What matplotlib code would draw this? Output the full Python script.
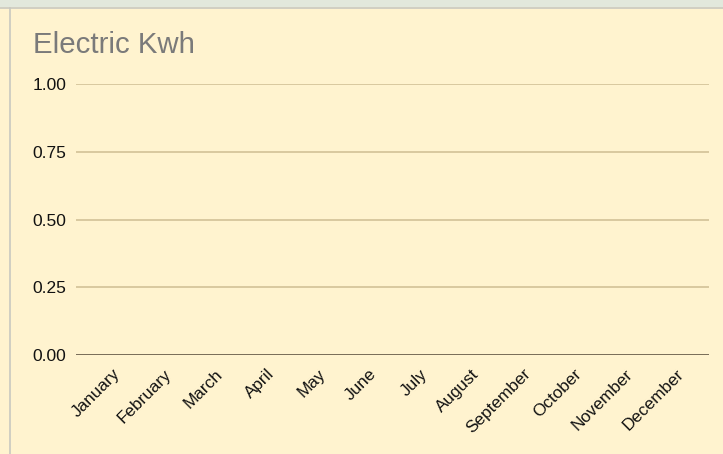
import matplotlib.pyplot as plt
from matplotlib.patches import Rectangle

# Chart data (no readings yet, so the chart is empty)
months = ['January', 'February', 'March', 'April', 'May', 'June', 'July',
          'August', 'September', 'October', 'November', 'December']
kwh = []
yticks = [0.0, 0.25, 0.5, 0.75, 1.0]

W, H = 723, 454
fig = plt.figure(figsize=(W / 100, H / 100), dpi=100)
fig.patch.set_facecolor('#fff3cf')

# page strip at top and card border
fig.patches.append(Rectangle((0, 1 - 7 / H), 1, 7 / H, transform=fig.transFigure,
                             facecolor='#e2e8dc', edgecolor='none', zorder=0))
fig.add_artist(plt.Line2D([0, 1], [1 - 7.5 / H] * 2, color='#c8c8c0', lw=1.2))
fig.add_artist(plt.Line2D([9.5 / W] * 2, [0, 1 - 7.5 / H], color='#c8c8c0', lw=1.2))

left, right = 76 / W, 709 / W
bottom, top = 1 - 355 / H, 1 - 84 / H
ax = fig.add_axes([left, bottom, right - left, top - bottom])
ax.set_facecolor('none')

x = list(range(len(months)))
ax.plot(x[:len(kwh)], kwh, color='#4e79a7')

ax.set_ylim(0, 1)
ax.set_xlim(-0.82, 11.53)
ax.set_yticks(yticks)
ax.set_yticklabels(['%.2f' % v for v in yticks], fontsize=12.5,
                   family='Liberation Sans', color='#111111')
ax.set_xticks(x)
ax.set_xticklabels(months, rotation=45, ha='right', va='center',
                   rotation_mode='anchor', fontsize=12.3,
                   family='Liberation Sans', color='#111111')
ax.tick_params(axis='both', length=0)
ax.tick_params(axis='y', pad=7)
ax.tick_params(axis='x', pad=12)

for v in yticks[1:]:
    ax.axhline(v, color='#d6c59c', lw=1.3, zorder=0)
ax.axhline(0, color='#6b5f4c', lw=2.0, zorder=1)

for s in ax.spines.values():
    s.set_visible(False)

fig.text(33 / W, 1 - 53 / H, 'Electric Kwh', fontsize=21.2,
         family='Liberation Sans', color='#7a7a7a', va='baseline')

fig.savefig('out.png', dpi=100, facecolor=fig.get_facecolor())
